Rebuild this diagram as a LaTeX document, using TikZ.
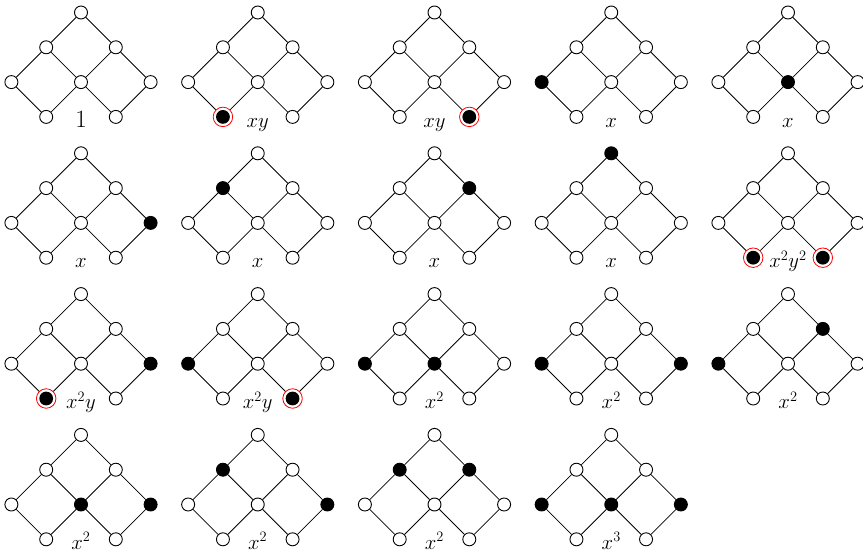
\documentclass[tikz,border=0pt]{standalone}
\begin{document}
\begin{tikzpicture}[x=1pt,y=-1pt,
 v/.style={circle, draw=black, fill=white, minimum size=13pt, inner sep=0pt, line width=0.9pt},
 on/.style={fill=black},
 ring/.style={draw=red, line width=0.8pt, minimum size=19.5pt, fill=white,
   path picture={\fill[black] (path picture bounding box.center) circle (6.9pt);}},
 edge/.style={line width=0.8pt},
 lbl/.style={anchor=base, inner sep=0pt, font=\fontsize{21.5}{24}\selectfont},
 nT/.style={}, nL/.style={}, nR/.style={}, nA/.style={}, nM/.style={}, nB/.style={}, nP/.style={}, nQ/.style={},
 pics/lat/.style={code={
   \node[v,nT] (-T) at (0,0) {};
   \node[v,nL] (-L) at (-34.8,34.8) {};
   \node[v,nR] (-R) at (34.8,34.8) {};
   \node[v,nA] (-A) at (-69.6,69.6) {};
   \node[v,nM] (-M) at (0,69.6) {};
   \node[v,nB] (-B) at (69.6,69.6) {};
   \node[v,nP] (-P) at (-34.8,104.4) {};
   \node[v,nQ] (-Q) at (34.8,104.4) {};
   \node[lbl] (-lab) at (0,114.5) {#1};
   \draw[edge] (-T)--(-L) (-T)--(-R) (-L)--(-A) (-L)--(-M) (-R)--(-M) (-R)--(-B)
     (-A)--(-P) (-M)--(-P) (-M)--(-Q) (-B)--(-Q);
 }}
]
\useasboundingbox (0,0) rectangle (863,554);
% row 1
\pic (d1) at (81,12.5) {lat={{\fontsize{24}{24}\selectfont$1$}}};
\pic[nP/.style=ring] (d2) at (257.75,12.5) {lat={$xy$}};
\pic[nQ/.style=ring] (d3) at (434.5,12.5) {lat={$xy$}};
\pic[nA/.style=on] (d4) at (611.25,12.5) {lat={$x$}};
\pic[nM/.style=on] (d5) at (788,12.5) {lat={$x$}};
% row 2
\pic[nB/.style=on] (d6) at (81,153.3) {lat={$x$}};
\pic[nL/.style=on] (d7) at (257.75,153.3) {lat={$x$}};
\pic[nR/.style=on] (d8) at (434.5,153.3) {lat={$x$}};
\pic[nT/.style=on] (d9) at (611.25,153.3) {lat={$x$}};
\pic[nP/.style=ring, nQ/.style=ring] (d10) at (788,153.3) {lat={$x^2y^2$}};
% row 3
\pic[nB/.style=on, nP/.style=ring] (d11) at (81,294.1) {lat={$x^2y$}};
\pic[nA/.style=on, nQ/.style=ring] (d12) at (257.75,294.1) {lat={$x^2y$}};
\pic[nA/.style=on, nM/.style=on] (d13) at (434.5,294.1) {lat={$x^2$}};
\pic[nA/.style=on, nB/.style=on] (d14) at (611.25,294.1) {lat={$x^2$}};
\pic[nA/.style=on, nR/.style=on] (d15) at (788,294.1) {lat={$x^2$}};
% row 4
\pic[nM/.style=on, nB/.style=on] (d16) at (81,434.9) {lat={$x^2$}};
\pic[nL/.style=on, nB/.style=on] (d17) at (257.75,434.9) {lat={$x^2$}};
\pic[nL/.style=on, nR/.style=on] (d18) at (434.5,434.9) {lat={$x^2$}};
\pic[nA/.style=on, nM/.style=on, nB/.style=on] (d19) at (611.25,434.9) {lat={$x^3$}};
\end{tikzpicture}
\end{document}
